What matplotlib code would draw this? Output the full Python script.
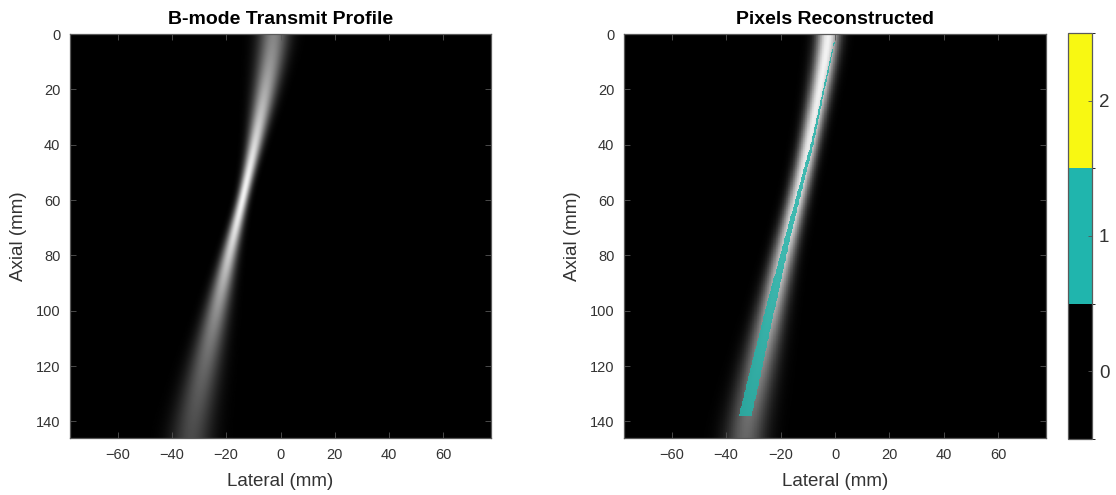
import matplotlib
matplotlib.use("Agg")
import matplotlib.pyplot as plt
import numpy as np
from matplotlib.colors import ListedColormap, BoundaryNorm
from matplotlib.cm import ScalarMappable

plt.rcParams['font.family'] = ['Liberation Sans', 'DejaVu Sans']

# transmit beam, sampled along depth: centre (mm), gaussian width (mm), peak level
depth_pts = np.array([0, 20, 40, 58, 80, 100, 120, 146])
centre_pts = np.array([-2.0, -5.5, -9.5, -13.5, -19.0, -23.5, -28.0, -33.5])
tx_width = np.array([4.0, 3.0, 1.9, 1.3, 2.0, 3.0, 4.1, 5.4])
tx_peak = np.array([0.50, 0.66, 0.86, 1.00, 0.80, 0.55, 0.40, 0.28])

# beam as shown behind the reconstructed pixels
rc_width = np.array([3.0, 2.7, 2.5, 2.5, 2.9, 3.5, 4.3, 5.2])
rc_peak = np.array([0.95, 0.95, 0.92, 0.90, 0.84, 0.70, 0.55, 0.38])

# band of reconstructed pixels: depth (mm), centre (mm), half width (mm)
band_depth = np.array([2.8, 40, 70, 100, 138])
band_centre = np.array([-0.3, -8.5, -16.5, -24.0, -33.0])
band_half = np.array([0.15, 0.5, 0.9, 1.7, 2.4])

lateral_lim = (-77.5, 77.5)
axial_lim = (0, 146)
lateral_ticks = [-60, -40, -20, 0, 20, 40, 60]
axial_ticks = [0, 20, 40, 60, 80, 100, 120, 140]
class_ticks = [0, 1, 2]
class_colors = ['#000000', '#20b5ad', '#f8f812']
titles = ['B-mode Transmit Profile', 'Pixels Reconstructed']

x = np.arange(lateral_lim[0], lateral_lim[1] + 0.01, 0.25)
z = np.arange(axial_lim[0], axial_lim[1] + 0.01, 0.25)
X, Z = np.meshgrid(x, z)


def smooth(v, mm=7.0):
    # gaussian smoothing along depth so the profile has no corners
    n = int(3 * mm / 0.25)
    k = np.exp(-0.5 * (np.arange(-n, n + 1) * 0.25 / mm) ** 2)
    k /= k.sum()
    return np.convolve(np.pad(v, n, mode='edge'), k, mode='valid')


def beam(width, peak):
    c = smooth(np.interp(z, depth_pts, centre_pts))[:, None]
    s = smooth(np.interp(z, depth_pts, width))[:, None]
    a = smooth(np.interp(z, depth_pts, peak))[:, None]
    return a * np.exp(-(X - c) ** 2 / (2 * s ** 2))


tx_img = beam(tx_width, tx_peak)
rc_img = beam(rc_width, rc_peak)

bc = np.interp(z, band_depth, band_centre)[:, None]
bh = np.interp(z, band_depth, band_half)[:, None]
inside = (np.abs(X - bc) <= bh) & (Z >= band_depth[0]) & (Z <= band_depth[-1])

teal = np.array([0.14, 0.70, 0.66])
rgb = np.repeat(rc_img[:, :, None], 3, axis=2)
rgb[inside] = 0.85 * teal + 0.15 * rgb[inside]

W, H = 1116, 495
fig = plt.figure(figsize=(W / 100, H / 100), dpi=100)
ax1 = fig.add_axes([70 / W, (H - 438) / H, 421 / W, 404 / H])
ax2 = fig.add_axes([624 / W, (H - 438) / H, 422 / W, 404 / H])
cax = fig.add_axes([1068 / W, (H - 439) / H, 24 / W, 406 / H])

ext = (lateral_lim[0], lateral_lim[1], axial_lim[1], axial_lim[0])
ax1.imshow(tx_img, cmap='gray', vmin=0, vmax=1, extent=ext, aspect='auto',
           interpolation='bilinear')
ax2.imshow(rgb, extent=ext, aspect='auto', interpolation='nearest')

edge = '#333333'
for ax, t in zip([ax1, ax2], titles):
    ax.set_xlim(lateral_lim)
    ax.set_ylim(axial_lim[1], axial_lim[0])
    ax.set_xticks(lateral_ticks)
    ax.set_yticks(axial_ticks)
    ax.tick_params(direction='in', length=4, width=0.6, color='#555555',
                   labelsize=10.5, labelcolor=edge, top=True, right=True, pad=7)
    for sp in ax.spines.values():
        sp.set_color('#5a5a5a')
        sp.set_linewidth(0.9)
    ax.set_xlabel('Lateral (mm)', fontsize=13.5, color=edge, labelpad=8)
    ax.set_ylabel('Axial (mm)', fontsize=13.5, color=edge, labelpad=6)
    ax.set_title(t, fontsize=14, fontweight='bold', pad=7)

cmap = ListedColormap(class_colors)
norm = BoundaryNorm([-0.5, 0.5, 1.5, 2.5], cmap.N)
cb = fig.colorbar(ScalarMappable(norm=norm, cmap=cmap), cax=cax, ticks=class_ticks)
cb.ax.tick_params(direction='in', length=3, width=0.6, color='#555555',
                  labelsize=13.5, labelcolor=edge, pad=5)
cb.outline.set_edgecolor('#5a5a5a')
cb.outline.set_linewidth(0.9)

fig.savefig('out.png', dpi=100)
